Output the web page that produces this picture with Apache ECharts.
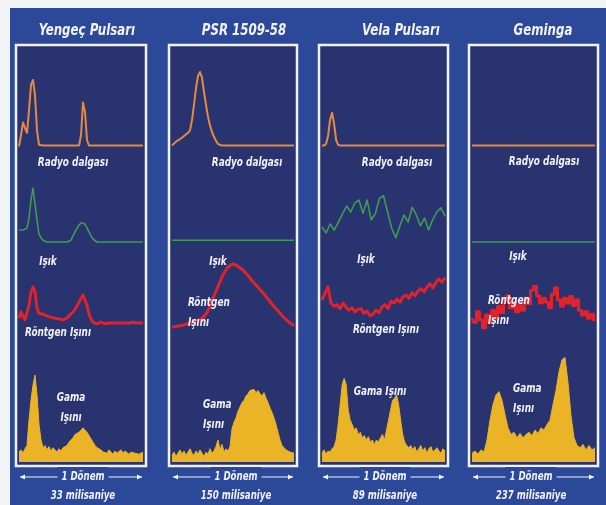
<!DOCTYPE html>
<html>
<head>
<meta charset="utf-8">
<script src="https://cdn.jsdelivr.net/npm/echarts@6/dist/echarts.min.js"></script>
<style>
  html, body { margin: 0; padding: 0; background: #f3f4f6; }
  #chart { width: 606px; height: 505px; }
</style>
</head>
<body>
<div id="chart"></div>
<script>
// ---- Texts ----
const pulsars = ['Yengeç Pulsarı', 'PSR 1509-58', 'Vela Pulsarı', 'Geminga'];
const periods = ['33 milisaniye', '150 milisaniye', '89 milisaniye', '237 milisaniye'];
const periodLabel = '1 Dönem';
const radioName = 'Radyo dalgası';
const lightName = 'Işık';
const xrayName = 'Röntgen Işını';
const gammaName = 'Gama Işını';

// ---- Pulse profiles over one rotation (relative intensity, 0–100) ----
const crabRadio = [2,16,32,25,19,47,79,85,66,22,4,3,3,3,3,3,3,3,3,3,3,3,3,3,3,3,3,3,3,3,3,
  16,57,45,10,3,3,3,3,3,3,3,3,3,3,3,3,3,3,3,3,3,3,3,3,3,3,3,3,3,3,3,3];
const crabLight = [25,28,25,22,28,45,75,95,92,42,18,12,8,5,5,5,5,5,5,5,5,5,5,5,5,5,
  8,15,22,28,33,37,38,35,28,22,15,10,7,5,5,5,5,5,5,5,5,5,5,5,5,5,5,5,5,5,5,5,5,5,5,5,5];
const crabXray = [21,29,24,19,21,37,54,60,54,34,27,29,26,25,24,24,22,21,21,20,20,19,19,20,21,
  24,26,29,32,36,41,46,50,48,37,26,20,16,15,14,15,16,15,14,15,15,16,15,14,15,15,15,16,15,14,
  15,15,16,15,15,14,15,15];
const crabGamma = [9,11,8,12,15,38,56,70,79,61,34,20,13,15,11,14,10,13,11,9,12,10,13,12,15,18,
  20,22,25,24,27,29,31,29,27,24,21,18,15,13,12,11,9,10,8,11,9,7,10,8,9,11,8,10,9,7,9,10,8,9,7,8,9];

const psrRadio = [3,5,8,9,11,13,15,16,19,22,35,54,75,90,95,88,70,54,39,28,20,14,9,5,4,
  3,3,3,3,3,3,3,3,3,3,3,3,3,3,3,3,3,3,3,3,3,3,3,3,3,3,3,3,3,3,3,3,3,3,3,3,3];
const psrLight = [8, 8];
const psrXray = [10,11,12,14,16,18,21,29,45,60,75,85,89,86,81,74,66,59,52,44,36,29,22,16,12];
const psrGamma = [6,9,5,8,11,7,10,6,9,12,8,6,10,7,11,8,5,9,7,12,8,10,14,20,11,16,9,12,10,14,
  30,36,40,46,50,54,56,60,62,65,64,66,63,65,62,60,63,58,54,49,45,40,34,27,20,15,13,11,12,9,10,8];

const velaRadio = [3,3,5,15,35,44,30,10,4,3,3,3,3,3,3,3,3,3,3,3,3,3,3,3,3,3,3,3,3,3,3,3,3,3,3,
  3,3,3,3,3,3,3,3,3,3,3,3,3,3,3,3,3,3,3,3,3,3,3,3,3,3,3];
const velaLight = [30,20,35,25,38,52,65,55,70,75,53,75,42,52,78,82,55,28,12,32,50,38,63,50,32,45,25,42,55,62,48];
const velaXray = [44,52,60,40,36,38,33,40,35,31,34,29,32,33,27,30,24,26,31,28,35,38,33,42,40,
  45,41,48,50,46,53,49,55,58,54,60,64,59,66,70,66,72];
const velaGamma = [8,11,7,10,9,12,14,20,34,52,70,76,70,47,38,34,29,31,25,27,22,24,20,23,18,20,16,
  20,18,22,25,20,29,38,47,56,58,61,52,38,25,18,15,13,15,11,14,9,12,15,10,13,8,12,14,9,11,13,10,8,12,10];

const gemingaRadio = [3, 3];
const gemingaLight = [5, 5];
const gemingaXray = [21,16,29,19,9,25,16,31,21,36,28,44,49,34,41,29,37,31,46,39,56,61,49,40,46,
  41,34,51,59,44,36,46,40,48,37,44,31,25,29,21,26,19];
const gemingaGamma = [8,10,7,11,9,20,38,52,61,64,56,43,31,25,27,22,26,22,25,27,24,29,26,31,29,34,
  38,52,65,82,93,95,72,42,22,15,13,16,11,15,11,13];

// ---- Layout and styling ----
const OUTER = '#2c4899';
const INNER = '#29336f';
const WHITE = '#f1f2fa';
const FONT = '"Liberation Sans Narrow", "DejaVu Sans Condensed", "Roboto", sans-serif';

const panels = [
  { x0: 16, x1: 146, titleX: 87, profiles: [crabRadio, crabLight, crabXray, crabGamma], steps: [false, false, false, false],
    texts: [
      { t: radioName, x: 73, y: 163 }, { t: lightName, x: 48, y: 262 },
      { t: xrayName, x: 58, y: 333 }, { t: 'Gama\nIşını', x: 71, y: 408 }
    ], periodX: 83 },
  { x0: 169, x1: 297, titleX: 244, profiles: [psrRadio, psrLight, psrXray, psrGamma], steps: [false, false, false, false],
    texts: [
      { t: radioName, x: 247, y: 163 }, { t: lightName, x: 218, y: 262 },
      { t: 'Röntgen\nIşını', x: 188, y: 313, left: true }, { t: 'Gama\nIşını', x: 203, y: 415, left: true }
    ], periodX: 236 },
  { x0: 319, x1: 448, titleX: 401, profiles: [velaRadio, velaLight, velaXray, velaGamma], steps: [false, false, false, false],
    texts: [
      { t: radioName, x: 397, y: 163 }, { t: lightName, x: 366, y: 260 },
      { t: xrayName, x: 386, y: 330 }, { t: gammaName, x: 380, y: 392 }
    ], periodX: 385 },
  { x0: 469, x1: 598, titleX: 543, profiles: [gemingaRadio, gemingaLight, gemingaXray, gemingaGamma], steps: [false, false, 'middle', false],
    texts: [
      { t: radioName, x: 544, y: 162 }, { t: lightName, x: 518, y: 257 },
      { t: 'Röntgen\nIşını', x: 488, y: 311, left: true }, { t: 'Gama\nIşını', x: 513, y: 399, left: true }
    ], periodX: 531 }
];

const BOX_TOP = 45, BOX_BOTTOM = 466;
// vertical band for each wavelength: radio, light, X-ray, gamma
const rows = [
  { top: 68, bottom: 148, color: '#e48a3e', width: 2, fill: false },
  { top: 185, bottom: 245, color: '#3f9a55', width: 1.6, fill: false },
  { top: 255, bottom: 335, color: '#e0222b', width: 3, fill: false },
  { top: 352, bottom: 462, color: '#ebb326', width: 1, fill: true }
];

const grid = [], xAxis = [], yAxis = [], series = [];
panels.forEach((p, pi) => {
  rows.forEach((r, ri) => {
    const idx = grid.length;
    const values = p.profiles[ri];
    grid.push({ left: p.x0 + 3, width: p.x1 - p.x0 - 6, top: r.top, height: r.bottom - r.top });
    xAxis.push({ gridIndex: idx, type: 'value', min: 0, max: values.length - 1, show: false });
    yAxis.push({ gridIndex: idx, type: 'value', min: 0, max: 100, show: false });
    const s = {
      type: 'line',
      xAxisIndex: idx,
      yAxisIndex: idx,
      data: values.map((v, i) => [i, v]),
      symbol: 'none',
      step: p.steps[ri],
      lineStyle: { color: r.color, width: r.width, join: 'round' },
      z: 5,
      silent: true
    };
    if (r.fill) s.areaStyle = { color: r.color, opacity: 1 };
    series.push(s);
  });
});

// condensed italic lettering
function label(text, x, y, size, squeeze, align, extra) {
  return Object.assign({
    type: 'text', z: 60, x: x, y: y, scaleX: squeeze, scaleY: 1,
    style: Object.assign({ text: text, fill: WHITE, fontSize: size, lineHeight: 20, fontStyle: 'italic',
      fontWeight: 'bold', fontFamily: FONT, align: align, verticalAlign: 'middle' }, extra || {})
  });
}

const graphic = [];
graphic.push({ type: 'rect', z: 0, shape: { x: 10, y: 8, width: 596, height: 497 }, style: { fill: OUTER } });
panels.forEach((p, pi) => {
  graphic.push({ type: 'rect', z: 1, shape: { x: p.x0, y: BOX_TOP, width: p.x1 - p.x0, height: BOX_BOTTOM - BOX_TOP },
    style: { fill: INNER } });
  graphic.push({ type: 'rect', z: 40, shape: { x: p.x0, y: BOX_TOP, width: p.x1 - p.x0, height: BOX_BOTTOM - BOX_TOP },
    style: { fill: 'none', stroke: WHITE, lineWidth: 2.5 } });
  graphic.push(label(pulsars[pi], p.titleX, 31, 16, 0.82, 'center'));
  p.texts.forEach(t => {
    graphic.push(label(t.t, t.x, t.y, 11.5, 0.86, t.left ? 'left' : 'center'));
  });
  // period bar with arrows
  const ly = 477, lx0 = p.x0 + 4, lx1 = p.x1 - 4;
  graphic.push({ type: 'line', z: 50, shape: { x1: lx0, y1: ly, x2: lx1, y2: ly }, style: { stroke: WHITE, lineWidth: 1 } });
  graphic.push({ type: 'polygon', z: 50, shape: { points: [[lx0, ly], [lx0 + 5, ly - 2.5], [lx0 + 5, ly + 2.5]] }, style: { fill: WHITE } });
  graphic.push({ type: 'polygon', z: 50, shape: { points: [[lx1, ly], [lx1 - 5, ly - 2.5], [lx1 - 5, ly + 2.5]] }, style: { fill: WHITE } });
  graphic.push(label(periodLabel, p.periodX, ly, 12, 0.8, 'center', { backgroundColor: OUTER, padding: [0, 5] }));
  graphic.push(label(periods[pi], p.periodX, 496, 12, 0.8, 'center'));
});

const chart = echarts.init(document.getElementById('chart'), null, { renderer: 'canvas' });
chart.setOption({
  animation: false,
  backgroundColor: '#f3f4f6',
  grid, xAxis, yAxis, series, graphic
});
</script>
</body>
</html>
